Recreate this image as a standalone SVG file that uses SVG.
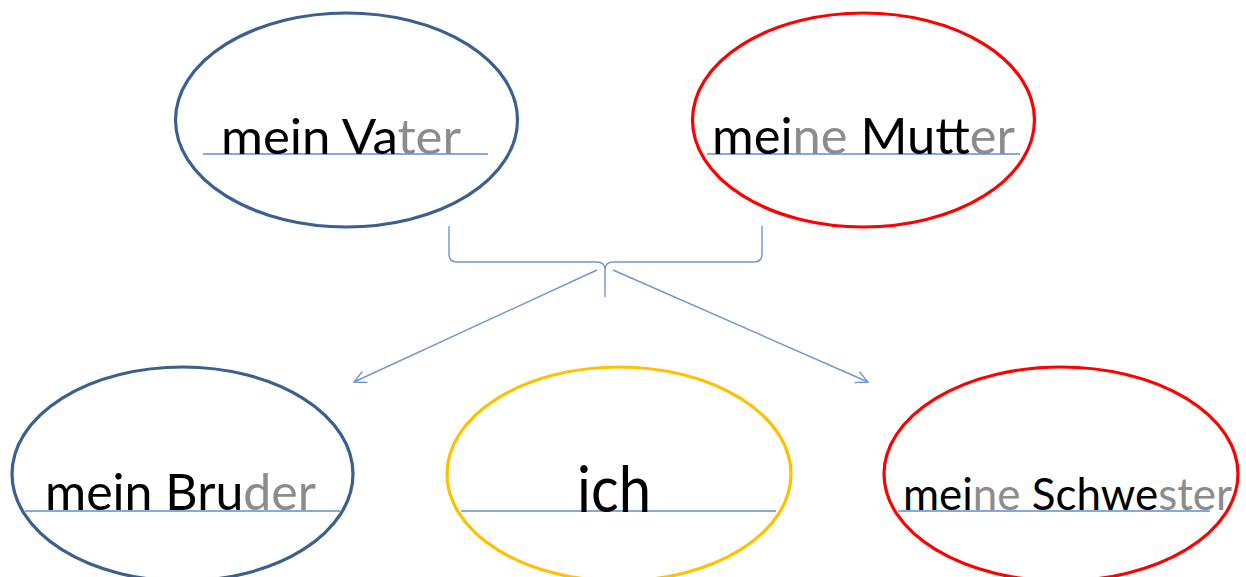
<svg xmlns="http://www.w3.org/2000/svg" width="1246" height="577" viewBox="0 0 1246 577">
<defs>
<style>
.bl{fill:none;stroke:#3b5f91;stroke-width:3.2}
.rd{fill:none;stroke:#ff0000;stroke-width:3.2}
.yl{fill:none;stroke:#ffc000;stroke-width:3.2}
.ul{stroke:#5f8ccc;stroke-width:1.6}
.t{font-family:Lato,"Open Sans","Liberation Sans",sans-serif;fill:#000}
.g{fill:#8c8c8c}
.c{fill:none;stroke:#7096cf;stroke-width:1.4}
</style>
<marker id="ah" markerWidth="16" markerHeight="16" refX="14" refY="8" orient="auto" markerUnits="userSpaceOnUse">
<path d="M2,2 L14,8 L2,14" fill="none" stroke="#7096cf" stroke-width="1.4"/>
</marker>
</defs>
<rect width="1246" height="577" fill="#fff"/>
<g id="connectors">
<path class="c" d="M449,226 L449,254 Q449,262 457,262 L597,262 Q605,262 605,270 L605,297 M605,297 L605,270 Q605,262 613,262 L754,262 Q762,262 762,254 L762,226"/>
<line class="c" x1="597" y1="270" x2="354" y2="382" marker-end="url(#ah)"/>
<line class="c" x1="613" y1="270" x2="868" y2="382" marker-end="url(#ah)"/>
</g>
<g id="vater">
<ellipse class="bl" cx="346.5" cy="120" rx="171" ry="107"/>
<line class="ul" x1="203" y1="154" x2="488" y2="154"/>
<text class="t" x="221" y="154" font-size="49" textLength="240" lengthAdjust="spacingAndGlyphs">mein Va<tspan class="g">ter</tspan></text>
</g>
<g id="mutter">
<ellipse class="rd" cx="863.5" cy="120" rx="171" ry="107"/>
<line class="ul" x1="707" y1="154" x2="1020" y2="154"/>
<text class="t" x="712" y="154" font-size="50" textLength="303" lengthAdjust="spacingAndGlyphs">mei<tspan class="g">ne</tspan> Mut<tspan class="g">ter</tspan></text>
</g>
<g id="bruder">
<ellipse class="bl" cx="182.5" cy="474" rx="170.5" ry="107"/>
<line class="ul" x1="25" y1="511" x2="340" y2="511"/>
<text class="t" x="45" y="510" font-size="51" textLength="271" lengthAdjust="spacingAndGlyphs">mein Bru<tspan class="g">der</tspan></text>
</g>
<g id="ich">
<ellipse class="yl" cx="619" cy="474" rx="172" ry="107"/>
<line class="ul" x1="461" y1="511" x2="776" y2="511"/>
<text class="t" x="577" y="512" font-size="63" textLength="74" lengthAdjust="spacingAndGlyphs">ich</text>
</g>
<g id="schwester">
<ellipse class="rd" cx="1061" cy="474" rx="177" ry="107"/>
<line class="ul" x1="898" y1="511" x2="1210" y2="511"/>
<text class="t" x="903" y="510" font-size="45" textLength="329" lengthAdjust="spacingAndGlyphs">mei<tspan class="g">ne</tspan> Schwe<tspan class="g">ster</tspan></text>
</g>
</svg>
